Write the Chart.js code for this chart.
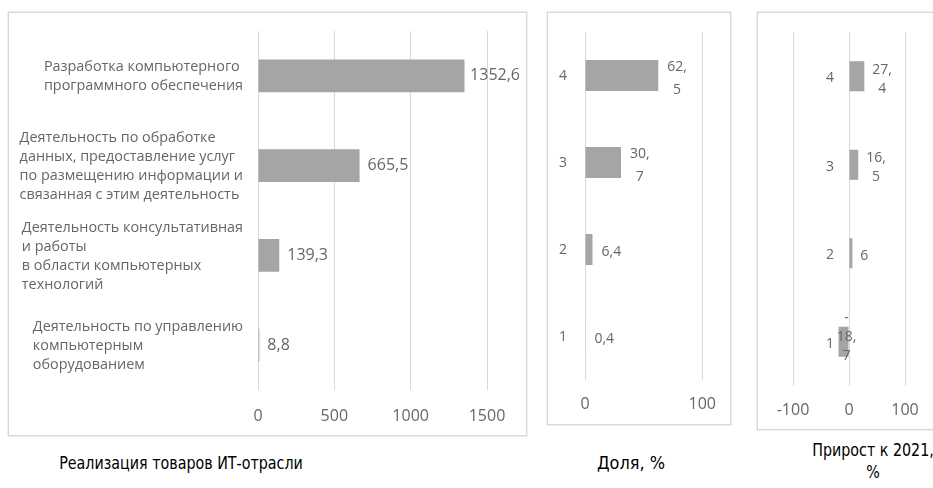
<!DOCTYPE html>
<html lang="ru">
<head>
<meta charset="utf-8">
<title>Реализация товаров ИТ-отрасли</title>
<script src="https://cdn.jsdelivr.net/npm/chart.js@4/dist/chart.umd.min.js"></script>
<style>
  html, body { margin: 0; padding: 0; background: #fff; width: 933px; height: 488px; overflow: hidden; }
  .frame { position: absolute; box-sizing: border-box; border: 1px solid #d6d6d6; box-shadow: 0 0 0 1px #efefef; background: #fff; }
  canvas { position: absolute; }
  .caption { position: absolute; font-family: "DejaVu Sans", sans-serif;
             font-size: 17px; line-height: 22px; color: #000; text-align: center; white-space: nowrap;
             transform: scaleX(0.84); transform-origin: center; }
</style>
</head>
<body>
<div class="frame" style="left:8px; top:12px; width:519px; height:424px;"></div>
<div class="frame" style="left:547px; top:12px; width:184px; height:413px;"></div>
<div class="frame" style="left:757px; top:12px; width:190px; height:418px;"></div>

<canvas id="salesChart" width="519" height="424" style="left:8px; top:12px;"></canvas>
<canvas id="shareChart" width="184" height="413" style="left:547px; top:12px;"></canvas>
<canvas id="growthChart" width="180" height="418" style="left:757px; top:12px;"></canvas>

<div class="caption" style="left:20px; width:322px; top:452px;">Реализация товаров ИТ-отрасли</div>
<div class="caption" style="left:571px; width:120px; top:452px; transform: scaleX(0.95);">Доля, %</div>
<div class="caption" style="left:798px; width:150px; top:439px;">Прирост к 2021,<br>%</div>

<script>
// Types of IT activity (top to bottom), already broken into lines
const activities = [
  ['Разработка компьютерного', 'программного обеспечения'],
  ['Деятельность по обработке', 'данных, предоставление услуг', 'по размещению информации и', 'связанная с этим деятельность'],
  ['Деятельность консультативная', 'и работы', 'в области компьютерных', 'технологий'],
  ['Деятельность по управлению', 'компьютерным', 'оборудованием']
];
// Sales of IT goods
const salesValues = [1352.6, 665.5, 139.3, 8.8];
const salesAxis = { min: 0, max: 1500, step: 500 };

// Same activities numbered 4..1
const activityNumbers = ['4', '3', '2', '1'];
// Share of total, %
const shareValues = [62.5, 30.7, 6.4, 0.4];
const shareAxis = { min: 0, max: 100, step: 100 };

// Growth compared with 2021, %
const growthValues = [27.4, 16.5, 6, -18.7];
const growthAxis = { min: -100, max: 100, step: 100 };

const FONT = '"Open Sans", "Noto Sans", sans-serif';
const TEXT = '#666666';
const BAR = '#a5a5a5';
const GRID = '#d9d9d9';

function formatValue(v) {
  return String(v).replace('.', ',');
}

// Break a number label after a comma or a minus sign when it is too wide
function wrapValue(ctx, text, maxWidth) {
  const parts = text.match(/[^,\-]*[,\-]|[^,\-]+$/g) || [text];
  const lines = [];
  let cur = '';
  for (const p of parts) {
    if (cur && ctx.measureText(cur + p).width > maxWidth) {
      lines.push(cur);
      cur = p;
    } else {
      cur += p;
    }
  }
  if (cur) lines.push(cur);
  return lines;
}

// Value printed beside each bar
const valueLabels = {
  id: 'valueLabels',
  afterDraw(chart, args, o) {
    const ctx = chart.ctx;
    const meta = chart.getDatasetMeta(0);
    const data = chart.data.datasets[0].data;
    ctx.save();
    ctx.font = o.size + 'px ' + FONT;
    ctx.fillStyle = TEXT;
    ctx.textAlign = 'center';
    ctx.textBaseline = 'middle';
    meta.data.forEach((bar, i) => {
      const v = data[i];
      const lines = wrapValue(ctx, formatValue(v), o.maxWidth);
      const w = Math.max(...lines.map(l => ctx.measureText(l).width));
      let cx, dy = o.dy;
      if (v >= 0) {
        let left = bar.x + o.gap;
        left = Math.min(left, chart.width - o.edge - w);
        cx = left + w / 2;
      } else {
        cx = (bar.x + bar.base) / 2 + o.negShift;
        dy = o.negDy;
      }
      const y0 = bar.y - (lines.length - 1) * o.lineHeight / 2 + dy;
      lines.forEach((l, j) => ctx.fillText(l, cx, y0 + j * o.lineHeight));
    });
    ctx.restore();
  }
};

// Category names: a left-aligned block that ends just before the zero line
const categoryLabels = {
  id: 'categoryLabels',
  afterDraw(chart, args, o) {
    const ctx = chart.ctx;
    const xs = chart.scales.x;
    const ys = chart.scales.y;
    const right = xs.getPixelForValue(0) - o.gap;
    ctx.save();
    ctx.font = o.size + 'px ' + FONT;
    ctx.fillStyle = TEXT;
    ctx.textAlign = 'left';
    ctx.textBaseline = 'middle';
    chart.data.labels.forEach((lab, i) => {
      const lines = Array.isArray(lab) ? lab : [lab];
      const w = Math.max(...lines.map(l => ctx.measureText(l).width));
      const y0 = ys.getPixelForValue(i) - (lines.length - 1) * o.lineHeight / 2 + o.dy;
      lines.forEach((l, j) => ctx.fillText(l, right - w, y0 + j * o.lineHeight));
    });
    ctx.restore();
  }
};

function barChart(id, labels, values, axis, cfg) {
  return new Chart(document.getElementById(id), {
    type: 'bar',
    data: {
      labels: labels,
      datasets: [{
        data: values,
        backgroundColor: BAR,
        borderWidth: 0,
        barPercentage: cfg.barPct,
        categoryPercentage: 1
      }]
    },
    options: {
      indexAxis: 'y',
      responsive: false,
      animation: false,
      devicePixelRatio: 1,
      layout: { padding: cfg.padding },
      plugins: {
        legend: { display: false },
        tooltip: { enabled: false },
        valueLabels: cfg.values,
        categoryLabels: cfg.categories
      },
      scales: {
        y: { display: false },
        x: {
          min: axis.min,
          max: axis.max,
          afterFit: s => { s.height = cfg.axisHeight; },
          ticks: {
            stepSize: axis.step,
            padding: cfg.tickPad,
            color: TEXT,
            font: { family: FONT, size: cfg.tickSize },
            maxRotation: 0,
            autoSkip: false,
            callback: v => String(v)
          },
          grid: { color: GRID, lineWidth: 1, drawTicks: false },
          border: { display: false }
        }
      }
    },
    plugins: [valueLabels, categoryLabels]
  });
}

barChart('salesChart', activities, salesValues, salesAxis, {
  barPct: 0.365,
  padding: { left: 250, right: 40, top: 19, bottom: 0 },
  axisHeight: 46,
  tickPad: 17,
  tickSize: 16,
  values: { size: 16, maxWidth: Infinity, gap: 8, edge: 7, lineHeight: 18, dy: 0, negShift: 0, negDy: 0 },
  categories: { size: 14.4, gap: 15, lineHeight: 19, dy: 1 }
});

barChart('shareChart', activityNumbers, shareValues, shareAxis, {
  barPct: 0.355,
  padding: { left: 38, right: 25, top: 20, bottom: 0 },
  axisHeight: 45,
  tickPad: 15,
  tickSize: 16,
  values: { size: 14, maxWidth: 24, gap: 9, edge: 4, lineHeight: 23, dy: 3, negShift: 0, negDy: 0 },
  categories: { size: 14, gap: 18, lineHeight: 19, dy: 1 }
});

barChart('growthChart', activityNumbers, growthValues, growthAxis, {
  barPct: 0.34,
  padding: { left: 36, right: 32, top: 20, bottom: 0 },
  axisHeight: 44,
  tickPad: 15,
  tickSize: 16,
  values: { size: 14, maxWidth: 22, gap: 8, edge: 4, lineHeight: 19, dy: 3, negShift: 3, negDy: -5 },
  categories: { size: 14, gap: 15, lineHeight: 19, dy: 2 }
});
</script>
</body>
</html>
